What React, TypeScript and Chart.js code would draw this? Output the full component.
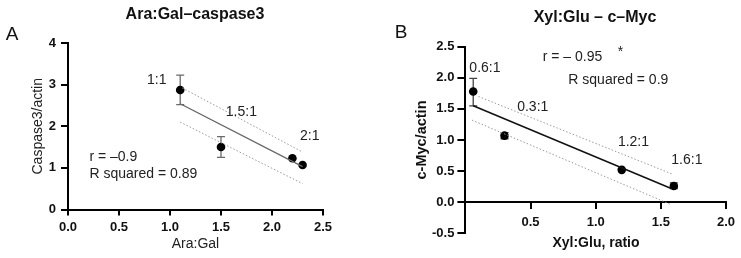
import React, { useEffect, useRef } from 'react';
import { Chart, registerables } from 'chart.js';

Chart.register(...registerables);

const FONT = '"Liberation Sans", Arial, Helvetica, sans-serif';

// ---- Panel A: Ara:Gal vs caspase3/actin ----
const araGal = [1.1, 1.5, 2.2, 2.3];
const caspase3 = [2.87, 1.5, 1.23, 1.07];
const caspase3Low = [2.52, 1.25, null, null];
const caspase3High = [3.23, 1.75, null, null];
const caspaseFitX = [1.1, 2.3];
const caspaseFitY = [2.54, 1.03];
const caspaseUpperX = [1.12, 2.3];
const caspaseUpperY = [2.92, 1.38];
const caspaseLowerX = [1.1, 2.3];
const caspaseLowerY = [2.1, 0.62];
const caspaseTicksX = [0, 0.5, 1, 1.5, 2, 2.5];
const caspaseTicksY = [0, 1, 2, 3, 4];
const caspaseRatioLabels = ['1:1', '1.5:1', '2:1'];
const caspaseStats = ['r = \u20130.9', 'R squared = 0.89'];

// ---- Panel B: Xyl:Glu vs c-Myc/actin ----
const xylGlu = [0.06, 0.3, 1.2, 1.6];
const cMyc = [1.78, 1.07, 0.52, 0.26];
const cMycLow = [1.55, 1.02, null, 0.22];
const cMycHigh = [1.99, 1.12, null, 0.31];
const cMycFitX = [0.06, 1.58];
const cMycFitY = [1.55, 0.22];
const cMycUpperX = [0.1, 1.59];
const cMycUpperY = [1.7, 0.45];
const cMycLowerX = [0.05, 1.58];
const cMycLowerY = [1.32, -0.04];
const cMycTicksX = [0.5, 1, 1.5, 2];
const cMycTicksY = [-0.5, 0, 0.5, 1, 1.5, 2, 2.5];
const cMycRatioLabels = ['0.6:1', '0.3:1', '1.2:1', '1.6:1'];
const cMycStats = ['r = \u2013 0.95', '*', 'R squared = 0.9'];

const toPoints = (xs: number[], ys: number[]) => xs.map((x, i) => ({ x, y: ys[i] }));

// Vertical error bars with caps, drawn through the chart scales
const errorBarPlugin = {
  id: 'errorBars',
  beforeDatasetsDraw(chart: any, _args: any, opts: any) {
    if (!opts || !opts.xs) return;
    const { ctx, scales } = chart;
    ctx.save();
    ctx.strokeStyle = opts.color || '#666';
    ctx.lineWidth = 1.3;
    opts.xs.forEach((x: number, i: number) => {
      const lo = opts.low[i];
      const hi = opts.high[i];
      if (lo == null || hi == null) return;
      const px = scales.x.getPixelForValue(x);
      const pl = scales.y.getPixelForValue(lo);
      const ph = scales.y.getPixelForValue(hi);
      const cap = 4;
      ctx.beginPath();
      ctx.moveTo(px, pl);
      ctx.lineTo(px, ph);
      ctx.moveTo(px - cap, pl);
      ctx.lineTo(px + cap, pl);
      ctx.moveTo(px - cap, ph);
      ctx.lineTo(px + cap, ph);
      ctx.stroke();
    });
    ctx.restore();
  },
};

// Free text: items placed in data space (space: 'data') or canvas pixels
const textPlugin = {
  id: 'freeText',
  afterDraw(chart: any, _args: any, opts: any) {
    if (!opts || !opts.items) return;
    const { ctx, scales } = chart;
    ctx.save();
    opts.items.forEach((it: any) => {
      let x = it.x;
      let y = it.y;
      if (it.space === 'data') {
        x = scales.x.getPixelForValue(it.x);
        y = scales.y.getPixelForValue(it.y);
      }
      ctx.font = it.font;
      ctx.fillStyle = it.color || '#222';
      ctx.textAlign = it.align || 'center';
      ctx.textBaseline = 'middle';
      ctx.fillText(it.text, x, y);
    });
    ctx.restore();
  },
};

const tickFont = { family: FONT, size: 13, weight: 'bold' as const };
const annotFont = `14px ${FONT}`;

function lineDataset(xs: number[], ys: number[], color: string, width: number, dash: number[] = []) {
  return {
    data: toPoints(xs, ys),
    showLine: true,
    borderColor: color,
    borderWidth: width,
    borderDash: dash,
    pointRadius: 0,
    fill: false,
    clip: false,
  };
}

function pointDataset(xs: number[], ys: number[]) {
  return {
    data: toPoints(xs, ys),
    showLine: false,
    pointRadius: 4.3,
    pointBackgroundColor: '#000',
    pointBorderColor: '#000',
    pointBorderWidth: 0,
    clip: false,
  };
}

const axisCommon = {
  grid: { drawOnChartArea: false, drawTicks: true, tickLength: 7, color: '#000', lineWidth: 2 },
  border: { display: true, color: '#000', width: 2 },
};

function buildPanelA(canvas: HTMLCanvasElement) {
  return new Chart(canvas, {
    type: 'scatter',
    data: {
      datasets: [
        lineDataset(caspaseUpperX, caspaseUpperY, '#9a9a9a', 1, [1.5, 2]),
        lineDataset(caspaseLowerX, caspaseLowerY, '#9a9a9a', 1, [1.5, 2]),
        lineDataset(caspaseFitX, caspaseFitY, '#666', 1.3),
        pointDataset(araGal, caspase3),
      ] as any,
    },
    options: {
      animation: false,
      responsive: false,
      layout: { padding: { top: 43, right: 47, bottom: 0, left: 0 } },
      plugins: {
        legend: { display: false },
        tooltip: { enabled: false },
        errorBars: { xs: araGal, low: caspase3Low, high: caspase3High, color: '#6a6a6a' },
        freeText: {
          items: [
            { text: 'A', x: 12, y: 35, font: `19px ${FONT}`, color: '#111' },
            { text: 'Ara:Gal\u2013caspase3', x: 195, y: 15, font: `bold 16px ${FONT}`, color: '#111' },
            { text: caspaseRatioLabels[0], x: 0.87, y: 3.1, space: 'data', font: annotFont },
            { text: caspaseRatioLabels[1], x: 1.7, y: 2.34, space: 'data', font: annotFont },
            { text: caspaseRatioLabels[2], x: 2.37, y: 1.76, space: 'data', font: annotFont },
            { text: caspaseStats[0], x: 0.21, y: 1.26, space: 'data', font: annotFont, align: 'left' },
            { text: caspaseStats[1], x: 0.21, y: 0.86, space: 'data', font: annotFont, align: 'left' },
          ],
        },
      } as any,
      scales: {
        x: {
          type: 'linear',
          min: 0,
          max: 2.5,
          ...axisCommon,
          grid: { ...axisCommon.grid, tickLength: 6 },
          afterBuildTicks: (s: any) => { s.ticks = caspaseTicksX.map((v) => ({ value: v })); },
          afterFit: (s: any) => { s.height = 48.5; },
          ticks: { font: tickFont, color: '#111', padding: 4, maxRotation: 0, callback: (v: any) => Number(v).toFixed(1) },
          title: { display: true, text: 'Ara:Gal', font: { family: FONT, size: 14 }, color: '#222', padding: { top: 0, bottom: 5 } },
        },
        y: {
          type: 'linear',
          min: 0,
          max: 4,
          ...axisCommon,
          afterBuildTicks: (s: any) => { s.ticks = caspaseTicksY.map((v) => ({ value: v })); },
          afterFit: (s: any) => { s.width = 68; },
          ticks: { font: tickFont, color: '#111', padding: 5, callback: (v: any) => String(v) },
          title: { display: true, text: 'Caspase3/actin', font: { family: FONT, size: 14 }, color: '#222', padding: { top: 30, bottom: 0 } },
        },
      },
    } as any,
    plugins: [errorBarPlugin, textPlugin],
  });
}

function buildPanelB(canvas: HTMLCanvasElement) {
  return new Chart(canvas, {
    type: 'scatter',
    data: {
      datasets: [
        lineDataset(cMycUpperX, cMycUpperY, '#9a9a9a', 1, [1.5, 2]),
        lineDataset(cMycLowerX, cMycLowerY, '#9a9a9a', 1, [1.5, 2]),
        lineDataset(cMycFitX, cMycFitY, '#111', 1.5),
        pointDataset(xylGlu, cMyc),
      ] as any,
    },
    options: {
      animation: false,
      responsive: false,
      layout: { padding: { top: 46.7, right: 14.3, bottom: 24.7, left: 0 } },
      plugins: {
        legend: { display: false },
        tooltip: { enabled: false },
        errorBars: { xs: xylGlu, low: cMycLow, high: cMycHigh, color: '#444' },
        freeText: {
          items: [
            { text: 'B', x: 31, y: 33, font: `19px ${FONT}`, color: '#111' },
            { text: 'Xyl:Glu \u2013 c\u2013Myc', x: 225, y: 18, font: `bold 16px ${FONT}`, color: '#111' },
            { text: 'Xyl:Glu, ratio', x: 226, y: 243.5, font: `bold 14px ${FONT}`, color: '#111' },
            { text: cMycRatioLabels[0], x: 0.15, y: 2.15, space: 'data', font: annotFont },
            { text: cMycRatioLabels[1], x: 0.517, y: 1.53, space: 'data', font: annotFont },
            { text: cMycRatioLabels[2], x: 1.29, y: 0.97, space: 'data', font: annotFont },
            { text: cMycRatioLabels[3], x: 1.7, y: 0.68, space: 'data', font: annotFont },
            { text: cMycStats[0], x: 0.593, y: 2.34, space: 'data', font: annotFont, align: 'left' },
            { text: cMycStats[1], x: 1.19, y: 2.41, space: 'data', font: annotFont },
            { text: cMycStats[2], x: 0.79, y: 1.97, space: 'data', font: annotFont, align: 'left' },
          ],
        },
      } as any,
      scales: {
        x: {
          type: 'linear',
          min: 0,
          max: 2,
          position: { y: 0 },
          ...axisCommon,
          grid: { ...axisCommon.grid, tickLength: 6 },
          afterBuildTicks: (s: any) => { s.ticks = cMycTicksX.map((v) => ({ value: v })); },
          ticks: { font: tickFont, color: '#111', padding: 6, maxRotation: 0, callback: (v: any) => Number(v).toFixed(1) },
        },
        y: {
          type: 'linear',
          min: -0.5,
          max: 2.5,
          ...axisCommon,
          grid: { ...axisCommon.grid, tickLength: 8 },
          afterBuildTicks: (s: any) => { s.ticks = cMycTicksY.map((v) => ({ value: v })); },
          afterFit: (s: any) => { s.width = 95.4; },
          ticks: { font: tickFont, color: '#111', padding: 3, callback: (v: any) => Number(v).toFixed(1) },
          title: { display: true, text: 'c-Myc/actin', font: { family: FONT, size: 14.5, weight: 'bold' }, color: '#111', padding: { top: 43, bottom: 0 } },
        },
      },
    } as any,
    plugins: [errorBarPlugin, textPlugin],
  });
}

export default function App() {
  const refA = useRef<HTMLCanvasElement | null>(null);
  const refB = useRef<HTMLCanvasElement | null>(null);

  useEffect(() => {
    if (!refA.current || !refB.current) return;
    const a = buildPanelA(refA.current);
    const b = buildPanelB(refB.current);
    return () => {
      a.destroy();
      b.destroy();
    };
  }, []);

  return (
    <div style={{ position: 'fixed', left: 0, top: 0, width: 741, height: 258, background: '#fff' }}>
      <canvas ref={refA} width={370} height={258} style={{ position: 'absolute', left: 0, top: 0, width: 370, height: 258 }} />
      <canvas ref={refB} width={371} height={258} style={{ position: 'absolute', left: 370, top: 0, width: 371, height: 258 }} />
    </div>
  );
}
